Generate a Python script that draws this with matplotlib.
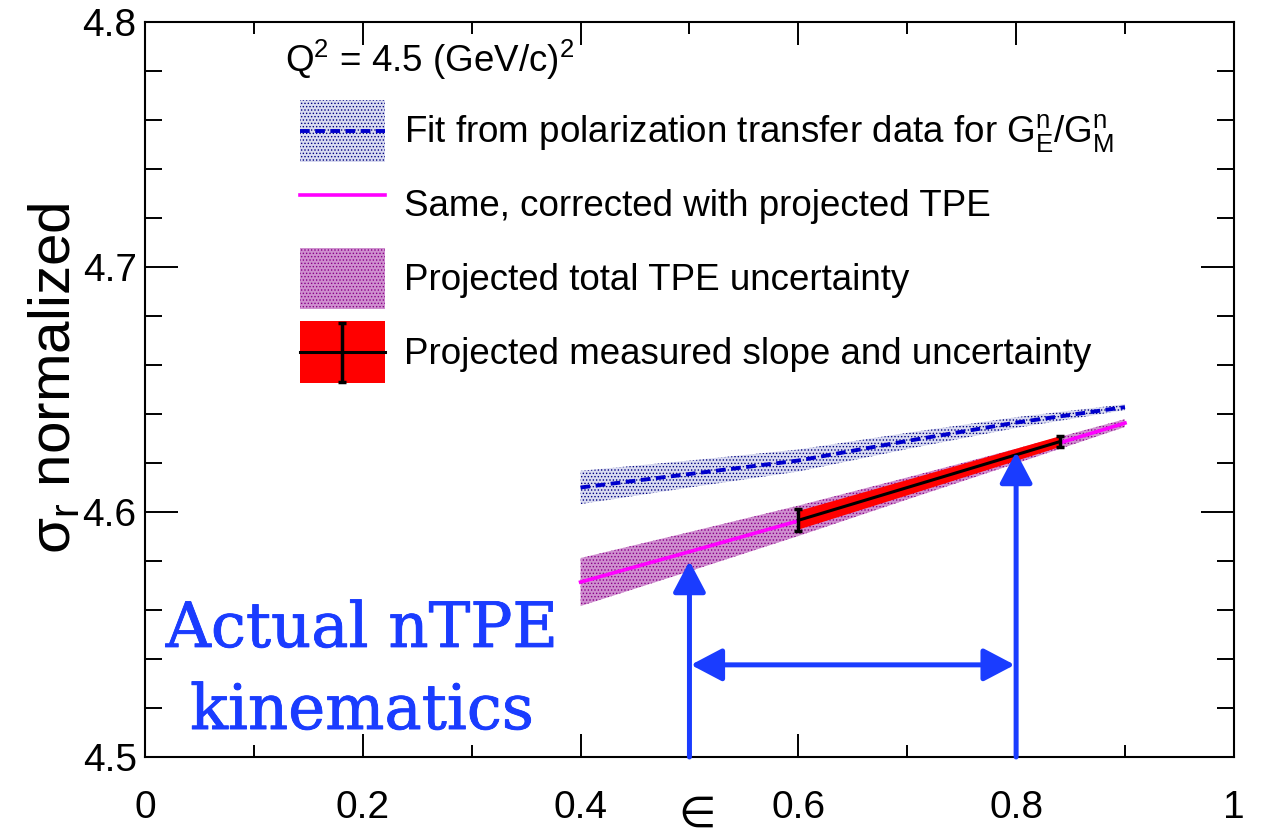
import numpy as np
import matplotlib
matplotlib.use('Agg')
import matplotlib.pyplot as plt
import matplotlib.patheffects as pe
from matplotlib.patches import Patch
from matplotlib.lines import Line2D
from matplotlib.legend_handler import HandlerTuple, HandlerErrorbar, HandlerLine2D

plt.rcParams['font.family'] = ['Liberation Sans', 'DejaVu Sans']
plt.rcParams['mathtext.fontset'] = 'custom'
plt.rcParams['mathtext.rm'] = 'Liberation Sans'
plt.rcParams['mathtext.it'] = 'Liberation Sans:italic'
plt.rcParams['hatch.linewidth'] = 0.6

# fit from polarization transfer data (blue) and TPE-corrected (magenta)
eps_fit = [0.4, 0.5, 0.6, 0.7, 0.8, 0.9]
fit_val = [4.6100, 4.6155, 4.6210, 4.6290, 4.6365, 4.6428]
fit_err = [0.0068, 0.0055, 0.0045, 0.0033, 0.0022, 0.0012]
tpe_val = [4.5714, 4.5838, 4.5964, 4.6096, 4.6228, 4.6363]
tpe_err = [0.0098, 0.0080, 0.0062, 0.0045, 0.0030, 0.0016]

# projected measured slope
eps_meas = [0.6, 0.72, 0.84]
meas_val = [4.5966, 4.6126, 4.6287]
meas_band = [0.0038, 0.0030, 0.0022]
eps_ends = [0.6, 0.84]
ends_val = [4.5966, 4.6287]
ends_err = [0.0045, 0.0022]

# nTPE kinematics arrows
arrow_eps = [0.5, 0.8]
arrow_tip = [4.580, 4.6245]
span_y = 4.5376

blue = '#0000cc'
magenta = '#ff00ff'
arrow_blue = '#1a3cff'
blue_face = '#d9dbf0'
mag_face = '#cf90cf'


# legend lines centred in the tall handle boxes
class CenteredLine(HandlerLine2D):
    def create_artists(self, legend, orig_handle, xdescent, ydescent, width, height, fontsize, trans):
        return super().create_artists(legend, orig_handle, xdescent, 2 * ydescent,
                                      width, height, fontsize, trans)


class CenteredErr(HandlerErrorbar):
    def create_artists(self, legend, orig_handle, xdescent, ydescent, width, height, fontsize, trans):
        return super().create_artists(legend, orig_handle, xdescent, 2 * ydescent,
                                      width, height, fontsize, trans)


fig = plt.figure(figsize=(12.61, 8.38), dpi=100)
ax = fig.add_axes([0.115, 0.0967, 0.8635, 0.877])

fit_val = np.array(fit_val)
fit_err = np.array(fit_err)
tpe_val = np.array(tpe_val)
tpe_err = np.array(tpe_err)
meas_val = np.array(meas_val)
meas_band = np.array(meas_band)

ax.fill_between(eps_fit, fit_val - fit_err, fit_val + fit_err,
                facecolor=blue_face, edgecolor='#000080', hatch='.....', lw=0, zorder=2)
ax.fill_between(eps_fit, tpe_val - tpe_err, tpe_val + tpe_err,
                facecolor=mag_face, edgecolor='#880088', hatch='.....', lw=0, zorder=2)
ax.plot(eps_fit, fit_val, color=blue, lw=2.8, ls=(0, (2.5, 1.4)), zorder=4)
ax.plot(eps_fit, tpe_val, color=magenta, lw=2.6, zorder=3)
ax.fill_between(eps_meas, meas_val - meas_band, meas_val + meas_band,
                facecolor='#ff0000', lw=0, zorder=5)
eb = ax.errorbar(eps_ends, ends_val, yerr=ends_err, color='black', lw=2.2,
                 elinewidth=2.5, capsize=3, capthick=2.5, zorder=6)

# blue arrows
for xe, yt in zip(arrow_eps, arrow_tip):
    ax.annotate('', xy=(xe, yt), xytext=(xe, 4.5),
                arrowprops=dict(arrowstyle='-|>,head_length=1.9,head_width=1.0',
                                mutation_scale=10, color=arrow_blue, lw=3.6,
                                shrinkA=0, shrinkB=0), zorder=7)
ax.annotate('', xy=(arrow_eps[0], span_y), xytext=(arrow_eps[1], span_y),
            arrowprops=dict(arrowstyle='<|-|>,head_length=1.9,head_width=1.0',
                            mutation_scale=10, color=arrow_blue, lw=3.6,
                            shrinkA=1, shrinkB=1), zorder=7)

thick = [pe.withStroke(linewidth=0.6, foreground=arrow_blue)]
ax.text(0.1993, 4.5449, 'Actual nTPE', color=arrow_blue, family='DejaVu Serif',
        fontsize=45, ha='center', va='baseline', path_effects=thick)
ax.text(0.1993, 4.5114, 'kinematics', color=arrow_blue, family='DejaVu Serif',
        fontsize=45, ha='center', va='baseline', path_effects=thick)

ax.text(0.1286, 0.932, r'Q$^2$ = 4.5 (GeV/c)$^2$', transform=ax.transAxes,
        fontsize=26.5, va='baseline', ha='left')

ax.set_xlim(0, 1)
ax.set_ylim(4.5, 4.8)
ax.set_xticks([0, 0.2, 0.4, 0.6, 0.8, 1.0])
ax.set_xticklabels(['0', '0.2', '0.4', '0.6', '0.8', '1'])
ax.set_xticks([0.1, 0.3, 0.5, 0.7, 0.9], minor=True)
ax.set_yticks([4.5, 4.6, 4.7, 4.8])
ax.set_yticks(np.arange(4.52, 4.8, 0.02), minor=True)
ax.tick_params(axis='both', which='both', direction='in', top=True, right=True,
               width=1.4, labelsize=28)
ax.tick_params(axis='x', which='major', length=16.5, pad=24)
ax.tick_params(axis='x', which='minor', length=8.3)
ax.tick_params(axis='y', which='major', length=24, pad=6)
ax.tick_params(axis='y', which='minor', length=12)
for s in ax.spines.values():
    s.set_linewidth(1.5)

ax.set_xlabel('∈', fontsize=31, va='center')
ax.xaxis.set_label_coords(0.507, -0.08)
ax.set_ylabel(r'σ$_\mathrm{r}$ normalized', fontsize=42, va='center')
ax.yaxis.set_label_coords(-0.083, 0.516)

dash_handle = Line2D([], [], color=blue, lw=2.8, ls=(0, (2.5, 1.4)))
h1 = (Patch(facecolor=blue_face, edgecolor='#000080', hatch='.....', lw=0), dash_handle)
h2 = Line2D([], [], color=magenta, lw=2.6)
h3 = Patch(facecolor=mag_face, edgecolor='#880088', hatch='.....', lw=0)
h4 = (Patch(facecolor='#ff0000', lw=0), eb)
labels = [r'Fit from polarization transfer data for G$^\mathrm{n}_\mathrm{E}$/G$^\mathrm{n}_\mathrm{M}$',
          'Same, corrected with projected TPE',
          'Projected total TPE uncertainty',
          'Projected measured slope and uncertainty']
ax.legend([h1, h2, h3, h4], labels, loc='upper left', bbox_to_anchor=(0.1423, 0.8939),
          frameon=False, fontsize=26.5, borderpad=0, borderaxespad=0,
          handlelength=2.3, handleheight=2.2, handletextpad=0.54, labelspacing=0.33,
          handler_map={tuple: HandlerTuple(ndivide=1, pad=0),
                       dash_handle: CenteredLine(),
                       eb: CenteredErr(xerr_size=0.5, yerr_size=0.8)})

fig.savefig('out.png', dpi=100)
